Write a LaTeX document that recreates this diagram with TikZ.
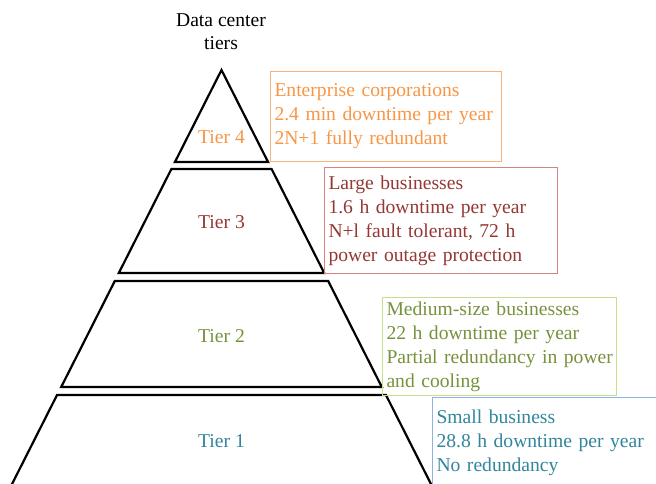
\documentclass[tikz,border=0pt]{standalone}
\usepackage{fontspec}
\setmainfont{Liberation Serif}
\definecolor{orT}{HTML}{F79646}
\definecolor{orB}{HTML}{F9B27A}
\definecolor{rdT}{HTML}{953735}
\definecolor{rdB}{HTML}{D9817E}
\definecolor{grT}{HTML}{76923C}
\definecolor{grB}{HTML}{C3E08D}
\definecolor{blT}{HTML}{31859C}
\definecolor{blB}{HTML}{8DB3E2}
\tikzset{
  tier/.style={draw=black, line width=2.2pt, line join=miter},
  infobox/.style={draw, line width=1pt, rectangle, anchor=north west, align=left,
    inner sep=4pt, font=\fontsize{19.6}{24}\selectfont},
  tierlabel/.style={font=\fontsize{19.6}{24}\selectfont, inner sep=0pt},
}
\begin{document}
\begin{tikzpicture}[x=1pt,y=-1pt]
\useasboundingbox (0,0) rectangle (656,483);
\clip (0,0) rectangle (656,483);
% title
\node[tierlabel, align=center, font=\fontsize{19.6}{23}\selectfont] (title) at (221,32) {Data center\\tiers};
% pyramid bands (apex 221.5,70; slope 0.506)
\draw[tier] (221.5,70) -- (268.05,162) -- (174.95,162) -- cycle;
\draw[tier] (171.4,169) -- (271.6,169) -- (324.2,273) -- (118.8,273) -- cycle;
\draw[tier] (114.8,281) -- (328.2,281) -- (381.8,387) -- (61.2,387) -- cycle;
\draw[tier] (57.05,395) -- (385.95,395) -- (434.0,490) -- (9.0,490) -- cycle;
% tier labels
\node[tierlabel, text=orT] (t4) at (221.5,137) {Tier 4};
\node[tierlabel, text=rdT] (t3) at (221.5,222) {Tier 3};
\node[tierlabel, text=grT] (t2) at (221.5,336) {Tier 2};
\node[tierlabel, text=blT] (t1) at (221.5,441) {Tier 1};
% info boxes
\node[infobox, draw=orB, text=orT, text width=223pt, minimum height=90pt] (b4) at (270,71)
  {\mbox{Enterprise corporations}\\\mbox{2.4 min downtime per year}\\\mbox{2N+1 fully redundant}};
\node[infobox, draw=rdB, text=rdT, text width=225pt, minimum height=106pt] (b3) at (324,167)
  {\mbox{Large businesses}\\\mbox{1.6 h downtime per year}\\\mbox{N+l fault tolerant, 72 h}\\\mbox{power outage protection}};
\node[infobox, draw=grB, text=grT, text width=226pt, minimum height=89pt] (b2) at (382,297)
  {\mbox{Medium-size businesses}\\\mbox{22 h downtime per year}\\\mbox{Partial redundancy in power}\\\mbox{and cooling}};
\node[infobox, draw=blB, text=blT, text width=230pt, minimum height=90pt] (b1) at (432,397)
  {\mbox{Small business}\\\mbox{28.8 h downtime per year}\\\mbox{No redundancy}};
\end{tikzpicture}
\end{document}
